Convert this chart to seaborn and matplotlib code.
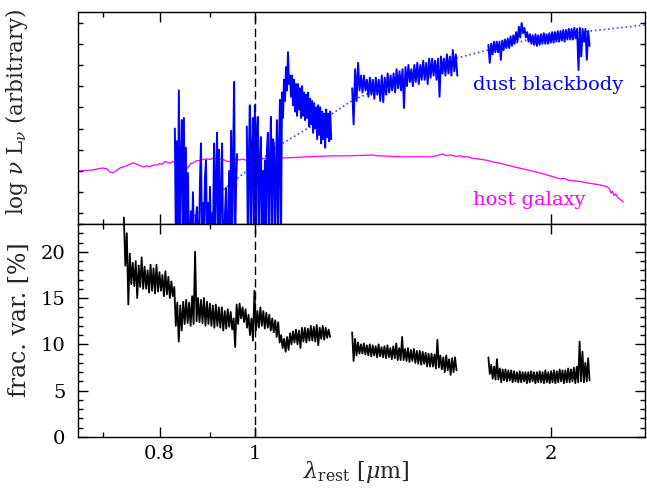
import numpy as np
import pandas as pd
import matplotlib
matplotlib.use("Agg")
import matplotlib.pyplot as plt
from matplotlib.ticker import FixedLocator, FixedFormatter, NullFormatter, MultipleLocator
import seaborn as sns

# ---------------- data ----------------
xtick_major = [0.8, 1.0, 2.0]
xtick_labels = ["0.8", "1", "2"]
xtick_minor = [0.7, 0.9]

# blue AGN spectrum (log nu L_nu, arbitrary units)
# window A: very noisy (values below the axis are -1)
blue_A_range = (0.829, 0.959)
blue_A = [4.5, -1, 3.9, -1, 6.3, -1, 3.0, 4.9, -1, 5.0, -1, 3.6, -1, 2.4, -1, -1,
          0.6, -1, 1.5, -1, -1, 0.3, 0.8, -1, -1, 2.0, 3.8, -1, 1.0, -1, 2.2, 3.0,
          -1, 1.0, -1, 1.75, -1, 0.5, -1, 3.8, -1, 2.0, 4.3, -1, 3.5, -1, 1.2, 3.8,
          -1, -1, 0.6, 1.7, -1, -1, 2.5, -1, 4.4, -1, 3.0, 6.7, -1, 2.0, 3.3]
# window B: noisy start, then Paschen-line bump and decline
blue_B_range = (0.981, 1.195)
blue_B = [4.6, -1, 3.0, 5.6, -1, 3.5, 5.0, -1, 5.6, -1, 4.5, 5.05, -1, 3.0, 4.1, -1,
          2.5, -1, 3.0, -1, 3.5, 4.3, -1, 3.0, 5.05, -1, 4.0, 3.8, -1, 2.5, 4.9, -1,
          3.5, 5.85, -1,
          6.2, 5.0, 6.8, 5.8, 7.4, 6.3, 8.1, 6.6, 7.0, 6.0, 7.0, 5.6, 6.8, 5.3, 6.6,
          5.1, 6.6, 5.4, 6.4, 5.0, 6.5, 5.1, 6.2, 4.9, 6.1, 5.0, 6.2, 4.6, 5.9, 4.7,
          5.8, 4.3, 5.7, 4.5, 5.5, 4.0, 5.6, 4.2, 5.5, 3.8, 5.3, 4.0, 5.2, 3.6, 5.4,
          4.1, 5.2, 3.9, 5.3, 4.0]
# window C: upper / lower edges of the noise band
blue_C_range = (1.255, 1.605)
blue_C_hi = [6.4, 7.3, 7.6, 7.0, 7.0, 6.8, 6.9, 6.8, 6.9, 6.8, 7.0, 6.9, 7.1, 7.0, 7.1,
             7.3, 7.2, 7.3, 7.4, 7.5, 7.3, 7.5, 7.6, 7.5, 7.7, 7.6, 7.8, 7.8, 7.7, 7.8,
             7.9, 7.8, 8.0, 7.9, 8.2, 8.0]
blue_C_lo = [4.7, 5.8, 6.3, 6.2, 6.3, 6.0, 6.1, 5.9, 6.1, 5.8, 5.75, 6.1, 6.2, 6.3, 6.2,
             6.4, 6.3, 5.47, 6.5, 6.7, 6.5, 6.7, 6.6, 6.8, 6.8, 6.6, 6.9, 7.0, 6.8, 6.0,
             7.1, 7.0, 7.1, 7.0, 7.2, 7.0]
# window D
blue_D_range = (1.726, 2.187)
blue_D_hi = [8.45, 8.5, 8.6, 8.6, 8.6, 8.65, 8.7, 8.75, 8.85, 8.9, 9.05, 9.3, 9.48,
             9.25, 9.05, 8.95, 8.9, 8.95, 8.9, 8.95, 9.0, 8.95, 9.0, 9.05, 9.05, 9.1,
             9.1, 9.15, 9.15, 9.2, 9.2, 9.25, 9.2, 9.25, 9.2, 9.2, 9.1]
blue_D_lo = [7.6, 8.0, 8.1, 8.1, 7.74, 8.2, 8.3, 8.3, 8.4, 8.5, 8.6, 8.8, 9.0,
             8.8, 8.6, 8.5, 8.45, 8.4, 8.45, 8.5, 8.5, 8.5, 8.55, 8.55, 8.6, 8.6,
             8.65, 8.6, 8.7, 8.7, 8.7, 8.75, 7.26, 7.9, 8.6, 7.74, 8.4]

# dust blackbody (dotted)
bb_lam = [0.829, 0.865, 0.906, 0.950, 1.000, 1.068, 1.111, 1.192, 1.258, 1.404,
          1.605, 1.891, 2.192, 2.493, 2.55]
bb_val = [-0.5, 0.33, 1.23, 1.98, 2.83, 3.82, 4.29, 5.14, 5.85, 6.79,
          7.83, 8.68, 9.10, 9.39, 9.44]

# host galaxy
host_lam = [0.661, 0.670, 0.684, 0.692, 0.700, 0.707, 0.712, 0.717, 0.722, 0.729,
            0.738, 0.745, 0.751, 0.758, 0.764, 0.769, 0.776, 0.782, 0.789, 0.795,
            0.800, 0.805, 0.810, 0.814, 0.820, 0.825, 0.829, 0.836, 0.842, 0.848,
            0.852, 0.855, 0.860, 0.865, 0.872, 0.880, 0.887, 0.894, 0.900, 0.906,
            0.912, 0.917, 0.924, 0.930, 0.937, 0.943, 0.950, 0.958, 0.965, 0.972,
            0.980, 0.988, 0.991, 0.995, 1.005, 1.030, 1.068, 1.100, 1.119, 1.150,
            1.192, 1.250, 1.318, 1.330, 1.360, 1.414, 1.460, 1.507, 1.530, 1.550,
            1.565, 1.580, 1.600, 1.615, 1.628, 1.645, 1.660, 1.680, 1.700, 1.722,
            1.745, 1.765, 1.788, 1.800, 1.815, 1.850, 1.891, 1.950, 2.000, 2.043,
            2.060, 2.080, 2.110, 2.140, 2.177, 2.200, 2.230, 2.260, 2.280, 2.293,
            2.300, 2.307, 2.315, 2.325, 2.334, 2.350, 2.367]
host_val = [2.50, 2.52, 2.55, 2.60, 2.64, 2.60, 2.45, 2.41, 2.50, 2.64,
            2.72, 2.80, 2.88, 2.82, 2.75, 2.69, 2.74, 2.70, 2.78, 2.78,
            2.85, 2.82, 2.95, 2.92, 2.86, 2.96, 2.88, 2.90, 2.84, 2.78,
            2.62, 2.66, 2.85, 2.88, 2.98, 3.00, 3.05, 3.07, 3.04, 3.10,
            3.08, 3.11, 3.05, 3.02, 2.95, 2.95, 3.04, 3.06, 3.02, 3.06,
            3.00, 2.97, 2.65, 3.05, 3.07, 3.10, 3.11, 3.14, 3.16, 3.18,
            3.21, 3.22, 3.25, 3.22, 3.20, 3.16, 3.17, 3.16, 3.22, 3.30,
            3.22, 3.26, 3.18, 3.22, 3.16, 3.17, 3.10, 3.08, 3.04, 3.00,
            2.92, 2.88, 2.83, 2.78, 2.75, 2.65, 2.55, 2.40, 2.25, 2.12,
            2.16, 2.06, 2.04, 2.00, 1.93, 1.90, 1.86, 1.80, 1.75, 1.62,
            1.45, 1.55, 1.35, 1.42, 1.27, 1.15, 1.04]

# fractional variability [%]: upper / lower edges of the noise band, three windows
fv_1_range = (0.7358, 1.192)
fv_1_hi = [23.7, 22.0, 19.8, 18.8, 19.0, 18.5, 19.4, 18.4, 18.0, 18.6, 18.2, 18.6,
           17.8, 17.5, 17.9, 17.3, 16.8, 16.2, 14.5, 14.2, 14.6, 14.8, 14.5, 15.2,
           20.0, 15.0, 14.8, 15.0, 14.6, 14.4, 14.2, 14.3, 14.0, 14.0, 13.6, 13.8,
           13.5, 12.8, 14.3, 14.4, 14.0, 13.8, 13.2, 12.8, 15.8, 13.6, 14.0, 13.6,
           13.4, 13.2, 12.8, 12.6, 12.4, 11.0, 10.6, 10.8, 11.2, 11.4, 11.6, 11.5,
           11.8, 11.8, 11.7, 12.0, 11.9, 12.1, 11.8, 12.0, 11.8, 11.6]
fv_1_lo = [18.5, 14.3, 16.5, 16.3, 15.0, 16.2, 16.0, 16.0, 15.6, 15.8, 15.5, 15.7,
           15.8, 15.2, 15.4, 15.0, 15.2, 12.0, 10.3, 11.5, 12.2, 12.3, 12.0, 12.2,
           12.5, 12.4, 12.3, 12.0, 12.2, 12.0, 11.8, 12.0, 11.8, 11.5, 11.7, 11.9,
           11.6, 9.7, 12.2, 12.8, 12.4, 11.8, 11.0, 10.4, 11.5, 11.8, 12.0, 11.7,
           11.8, 11.5, 11.3, 10.8, 10.2, 9.6, 9.2, 9.4, 10.0, 10.2, 10.0, 9.6,
           10.3, 10.2, 10.4, 10.4, 10.3, 9.9, 10.6, 10.5, 10.7, 10.8]
fv_2_range = (1.255, 1.602)
fv_2_hi = [11.3, 10.6, 10.2, 10.0, 10.1, 9.9, 10.0, 9.9, 9.8, 10.0, 9.7, 9.8, 9.9,
           9.6, 9.8, 10.1, 9.6, 10.8, 9.5, 9.6, 9.4, 9.5, 9.3, 9.3, 9.2, 9.1, 9.0,
           9.0, 8.9, 10.5, 8.8, 8.6, 8.8, 8.4, 8.5, 8.6]
fv_2_lo = [8.2, 8.8, 9.0, 9.0, 8.9, 8.8, 8.7, 8.8, 8.6, 8.7, 8.6, 8.5, 8.6,
           8.4, 8.5, 8.3, 8.3, 8.3, 8.2, 8.1, 8.2, 8.0, 7.9, 7.8, 7.9, 7.6, 7.6,
           7.6, 7.4, 7.5, 7.3, 7.0, 7.2, 6.7, 7.0, 7.2]
fv_3_range = (1.726, 2.187)
fv_3_hi = [8.6, 7.8, 7.6, 8.4, 7.4, 7.3, 7.3, 7.2, 7.2, 7.1, 7.0, 7.1, 7.0, 7.0, 7.0,
           7.1, 7.0, 7.0, 7.1, 7.0, 7.2, 7.0, 7.1, 7.2, 7.1, 7.3, 7.2, 7.2, 7.4, 7.3,
           7.5, 7.6, 10.3, 9.2, 8.0, 8.5]
fv_3_lo = [6.8, 6.3, 6.2, 6.2, 5.9, 6.1, 6.0, 6.1, 5.9, 6.0, 5.9, 5.9, 6.0, 5.8, 5.9,
           6.0, 5.8, 5.9, 5.9, 5.8, 5.9, 5.8, 5.9, 5.8, 5.9, 6.0, 5.8, 5.9, 5.9, 6.0,
           5.8, 5.9, 6.0, 5.9, 6.0, 6.1]

# ---------------- style ----------------
sns.set_style("ticks")
plt.rcParams['font.family'] = ['DejaVu Serif']
plt.rcParams['mathtext.fontset'] = 'dejavuserif'
plt.rcParams['axes.linewidth'] = 1.0

BLUE = '#0000ff'
MAGENTA = '#ff00ff'

fig = plt.figure(figsize=(6.47, 4.9), dpi=100)
ax1 = fig.add_axes([0.1206, 0.5429, 0.8764, 0.4327])
ax2 = fig.add_axes([0.1206, 0.1082, 0.8764, 0.4347], sharex=ax1)
for ax in (ax1, ax2):
    ax.set_xscale('log')


def seg(rng, vals):
    return pd.DataFrame({'lam': np.geomspace(rng[0], rng[1], len(vals)), 'val': vals})


def band(rng, hi, lo):
    vals = np.column_stack([hi, lo]).ravel()
    return seg(rng, vals)


# top panel
sns.lineplot(data=pd.DataFrame({'lam': host_lam, 'val': host_val}), x='lam', y='val',
             ax=ax1, color=MAGENTA, lw=0.9, estimator=None, sort=False)
sns.lineplot(data=pd.DataFrame({'lam': bb_lam, 'val': bb_val}), x='lam', y='val',
             ax=ax1, color='#4444ff', lw=1.2, linestyle=':', estimator=None, sort=False)
for df in [seg(blue_A_range, blue_A), seg(blue_B_range, blue_B),
           band(blue_C_range, blue_C_hi, blue_C_lo),
           band(blue_D_range, blue_D_hi, blue_D_lo)]:
    sns.lineplot(data=df, x='lam', y='val', ax=ax1, color=BLUE, lw=1.4,
                 estimator=None, sort=False)

# bottom panel
for i, df in enumerate([band(fv_1_range, fv_1_hi, fv_1_lo),
                        band(fv_2_range, fv_2_hi, fv_2_lo),
                        band(fv_3_range, fv_3_hi, fv_3_lo)]):
    sns.lineplot(data=df, x='lam', y='val', ax=ax2, color='black', lw=1.3,
                 estimator=None, sort=False, clip_on=(i != 0))

for ax in (ax1, ax2):
    ax.axvline(1.0, color='black', lw=1.0, ls=(0, (6, 3)))
    ax.set_xlim(0.661, 2.49)
    ax.xaxis.set_major_locator(FixedLocator(xtick_major))
    ax.xaxis.set_minor_locator(FixedLocator(xtick_minor))
    ax.xaxis.set_minor_formatter(NullFormatter())
    ax.tick_params(which='both', direction='in', top=True, right=True,
                   width=1.0, labelsize=14, colors='black')
    ax.tick_params(axis='x', which='major', length=7, pad=6)
    ax.tick_params(axis='x', which='minor', length=3.5)
    for s in ax.spines.values():
        s.set_color('black')

ax1.xaxis.set_major_formatter(NullFormatter())
ax2.xaxis.set_major_formatter(FixedFormatter(xtick_labels))

ax1.set_ylim(0, 10)
ax1.yaxis.set_major_locator(FixedLocator(np.arange(0.5, 10, 1.0)))
ax1.yaxis.set_major_formatter(NullFormatter())
ax1.tick_params(axis='y', which='major', length=3.8)

ax2.set_ylim(0, 23)
ax2.yaxis.set_major_locator(MultipleLocator(5))
ax2.yaxis.set_minor_locator(MultipleLocator(1))
ax2.tick_params(axis='y', which='major', length=7.5, pad=9)
ax2.tick_params(axis='y', which='minor', length=3.5)

ax1.set_xlabel('')
ax1.set_ylabel(r'log $\nu$ L$_\nu$ (arbitrary)', fontsize=15.5)
ax1.yaxis.set_label_coords(-0.084, 0.53)
ax2.set_ylabel('frac. var. [%]', fontsize=17)
ax2.yaxis.set_label_coords(-0.084, 0.55)
ax2.set_xlabel(r'$\lambda_{\rm rest}$ [$\mu$m]', fontsize=16)
ax2.xaxis.set_label_coords(0.49, -0.105)

ax1.text(1.666, 6.56, 'dust blackbody', color=BLUE, fontsize=14, ha='left', va='center')
ax1.text(1.666, 1.13, 'host galaxy', color=MAGENTA, fontsize=14, ha='left', va='center')

fig.savefig('out.png', dpi=100)
